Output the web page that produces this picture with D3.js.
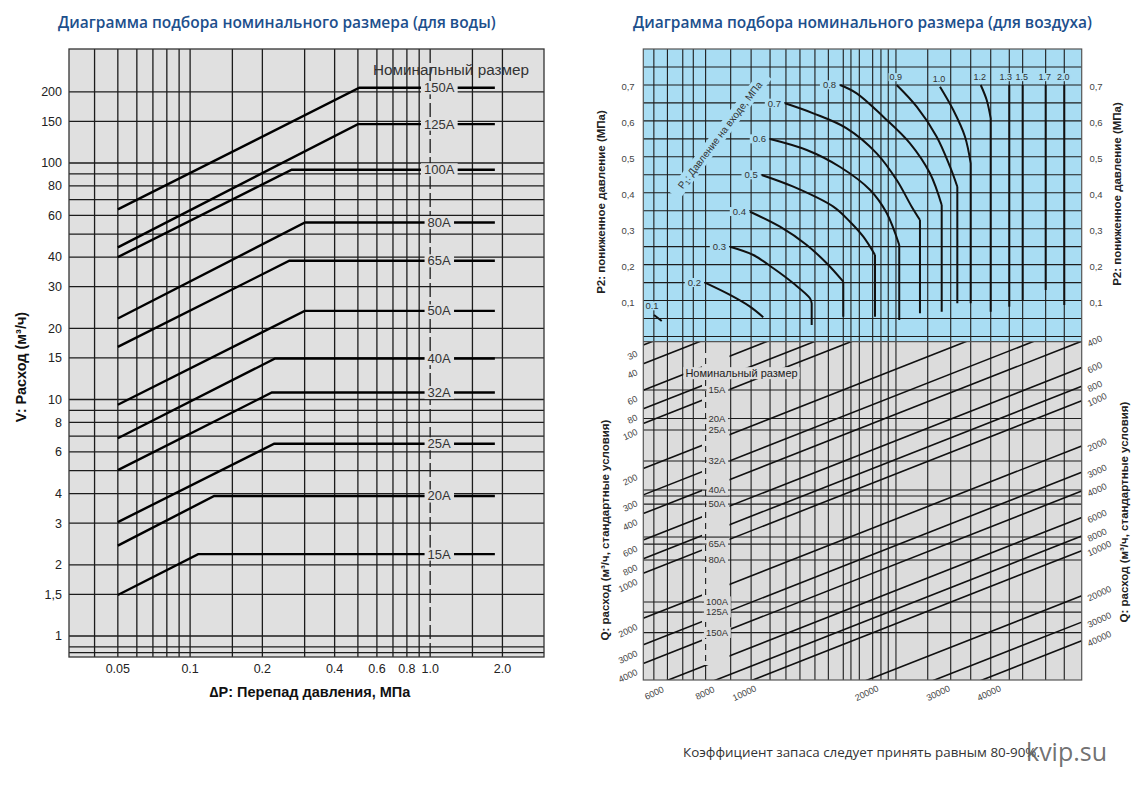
<!DOCTYPE html>
<html><head><meta charset="utf-8">
<script src="https://cdn.jsdelivr.net/npm/d3@7"></script>
<style>
body{margin:0;background:#fff;}
svg text{font-family:"Liberation Sans",Arial,sans-serif;}
</style></head>
<body><svg id="c" width="1148" height="802"></svg>
<script>
// ================= DATA =================
// --- Water chart (left) ---
const waterSizes   = ["15A","20A","25A","32A","40A","50A","65A","80A","100A","125A","150A"];
const waterStartDP = [0.05,0.05,0.05,0.05,0.05,0.05,0.05,0.05,0.05,0.05,0.05];
const waterStartV  = [1.49,2.41,3.03,5.03,6.86,9.5,16.7,22,40,44,63.7];
const waterKneeDP  = [0.108,0.126,0.224,0.219,0.226,0.30,0.259,0.301,0.265,0.50,0.507];
const waterMaxV    = [2.22,3.91,6.5,10.7,14.9,23.7,38.6,56,93.7,146,208];
const waterEndDP   = [1.86,1.86,1.86,1.86,1.86,1.86,1.86,1.86,1.86,1.86,1.86];
const waterLabelDP = 1.09;
const waterXGrid   = [0.04,0.05,0.06,0.07,0.08,0.09,0.1,0.15,0.2,0.3,0.4,0.5,0.6,0.7,0.8,0.9,1.5,2.0];
const waterXDashed = [1.0];
const waterXTicks  = [0.05,0.1,0.2,0.4,0.6,0.8,1.0,2.0];
const waterXTickText = ["0.05","0.1","0.2","0.4","0.6","0.8","1.0","2.0"];
const waterYGrid   = [0.85,0.9,1,1.5,2,3,4,5,6,7,8,9,10,15,20,30,40,50,60,70,80,90,100,150,200];
const waterYTicks  = [1,1.5,2,3,4,6,8,10,15,20,30,40,60,80,100,150,200];
const waterYTickText = ["1","1,5","2","3","4","6","8","10","15","20","30","40","60","80","100","150","200"];

// --- Air chart (right) ---
const airP2Grid  = [0,0.05,0.1,0.15,0.2,0.25,0.3,0.35,0.4,0.45,0.5,0.55,0.6,0.65,0.7,0.75];
const airP2Ticks = [0.1,0.2,0.3,0.4,0.5,0.6,0.7];
const airP2TickText = ["0,1","0,2","0,3","0,4","0,5","0,6","0,7"];
const airXGrid = [5500,5970,6550,6980,8750,9900,11100,12220,13300,14560,15790,17280,18100,19040,20640,21700,22680,23760,28790,33080,37330,42130,47130,51100,58720,65710];
const airXGridDashed = [7520];
// P1 curves: points [Q-axis position, P2], then vertical drop to P2
const airP1Values = [0.1,0.2,0.3,0.4,0.5,0.6,0.7,0.8,0.9,1.0,1.2,1.3,1.5,1.7,2.0];
const airP1Text   = ["0.1","0.2","0.3","0.4","0.5","0.6","0.7","0.8","0.9","1.0","1.2","1.3","1.5","1.7","2.0"];
const airP1Arcs = [
  [[5505,0.0598],[5768,0.0431]],
  [[7490,0.1497],[8715,0.1155],[9834,0.0829],[10655,0.0534]],
  [[8715,0.2499],[10032,0.2268],[11323,0.1898],[12777,0.148],[14128,0.1063],[14277,0.0924]],
  [[9834,0.3472],[11790,0.3055],[13856,0.2546],[15635,0.2037],[17281,0.1525]],
  [[10557,0.4494],[12777,0.4168],[16270,0.3612],[17993,0.3194],[19505,0.2777],[20934,0.2268]],
  [[11094,0.5495],[13856,0.5189],[16956,0.4716],[20326,0.4076],[22462,0.3436],[24236,0.2546]],
  [[12152,0.6489],[14417,0.621],[17641,0.5793],[21150,0.5097],[23868,0.4354],[26130,0.3612],[27470,0.3241]],
  [[16956,0.6998],[18740,0.6767],[22007,0.6116],[25862,0.5376],[29180,0.4541],[31326,0.3659]],
  [[23868,0.6998],[26930,0.6394],[30387,0.5559],[32936,0.4725],[34428,0.4168]],
  [[31001,0.695],[33597,0.6302],[36063,0.5559],[37322,0.4819]],
  [[39655,0.6998],[41115,0.658],[42121,0.6071]],
  [[47131,0.6998]],
  [[51100,0.6998]],
  [[58725,0.6998]],
  [[65714,0.6998]]
];
const airP1Drop = [null,null,0.032,0.0551,0.0551,0.0459,0.0646,0.069,0.0924,0.0924,0.069,0.0829,0.1016,0.1294,0.0876];
// iso-flow lines (m3/h)
const airQLines = [30,40,60,80,100,200,300,400,600,800,1000,2000,3000,4000,6000,8000,10000,20000,30000,40000];
const airQLeftTicks   = [30,40,60,80,100,200,300,400,600,800,1000,2000,3000,4000];
const airQRightTicks  = [400,600,800,1000,2000,3000,4000,6000,8000,10000,20000,30000,40000];
const airQBottomTicks = [6000,8000,10000,20000,30000,40000];
// nominal sizes placed on the left Q axis
const airSizes = ["15A","20A","25A","32A","40A","50A","65A","80A","100A","125A","150A"];
const airSizeQ = [59.9,92.8,110.8,178.4,278.6,345.6,639,817,1558,1817,2490];
const airExtraQGrid = [305.5,573.8];

// ================= DRAW =================
const svg = d3.select("#c");
const GRID = "#1c1c1c";

// Titles
svg.append("text").attr("x",58).attr("y",28).text("Диаграмма подбора номинального размера (для воды)")
  .style("font-family","'Open Sans'").attr("font-weight",600).attr("font-size",15.5).attr("fill","#1d4f8c");
svg.append("text").attr("x",633).attr("y",28).text("Диаграмма подбора номинального размера (для воздуха)")
  .style("font-family","'Open Sans'").attr("font-weight",600).attr("font-size",15.5).attr("fill","#1d4f8c");

// ---------- Left chart ----------
const WL=69, WR=544, WT=49, WB=657, WBG="#e0e0e0";
const wx = d3.scaleLog().domain([0.0313, 2.98]).range([WL, WR]);
const wy = d3.scaleLog().domain([0.815, 303.4]).range([WB, WT]);
const wg = svg.append("g");
wg.append("rect").attr("x",WL).attr("y",WT).attr("width",WR-WL).attr("height",WB-WT).attr("fill",WBG);
wg.selectAll(".wxg").data(waterXGrid).join("line")
  .attr("x1",d=>wx(d)).attr("x2",d=>wx(d)).attr("y1",WT).attr("y2",WB)
  .attr("stroke",GRID).attr("stroke-width",1.3);
wg.selectAll(".wxd").data(waterXDashed).join("line")
  .attr("x1",d=>wx(d)).attr("x2",d=>wx(d)).attr("y1",WT).attr("y2",WB)
  .attr("stroke",GRID).attr("stroke-width",1.3).attr("stroke-dasharray","14,4");
wg.selectAll(".wyg").data(waterYGrid).join("line")
  .attr("x1",WL).attr("x2",WR).attr("y1",d=>wy(d)).attr("y2",d=>wy(d))
  .attr("stroke",GRID).attr("stroke-width",1.3);
const wline = d3.line().x(d=>wx(d[0])).y(d=>wy(d[1]));
waterSizes.forEach((s,i)=>{
  const pts=[[waterStartDP[i],waterStartV[i]],[waterKneeDP[i],waterMaxV[i]],[waterEndDP[i],waterMaxV[i]]];
  wg.append("path").attr("d",wline(pts)).attr("fill","none").attr("stroke","#000").attr("stroke-width",2.4);
});
waterSizes.forEach((s,i)=>{
  const t = wg.append("text").attr("x",wx(waterLabelDP)).attr("y",wy(waterMaxV[i])).attr("dy","0.35em")
    .attr("text-anchor","middle").attr("font-size",13).attr("fill","#333").text(s);
  const bb=t.node().getBBox();
  wg.insert("rect",()=>t.node()).attr("x",bb.x-3).attr("y",bb.y+1).attr("width",bb.width+6).attr("height",bb.height-2).attr("fill",WBG);
});
wg.append("rect").attr("x",WL).attr("y",WT).attr("width",WR-WL).attr("height",WB-WT)
  .attr("fill","none").attr("stroke","#333").attr("stroke-width",1.3);
wg.append("text").attr("x",451).attr("y",70).attr("dy","0.35em").attr("text-anchor","middle")
   .attr("font-size",15.3).attr("fill","#333").text("Номинальный размер");
wg.selectAll(".wyt").data(waterYTicks).join("text")
  .attr("x",62).attr("y",d=>wy(d)).attr("dy","0.35em").attr("text-anchor","end")
  .attr("font-size",12.5).attr("fill","#222").text((d,i)=>waterYTickText[i]);
wg.selectAll(".wxt").data(waterXTicks).join("text")
  .attr("x",d=>wx(d)).attr("y",669).attr("dy","0.35em").attr("text-anchor","middle")
  .attr("font-size",12.5).attr("fill","#222").text((d,i)=>waterXTickText[i]);
wg.append("text").attr("transform","translate(21,367) rotate(-90)").attr("text-anchor","middle").attr("dy","0.35em")
  .attr("font-size",14.5).attr("font-weight","bold").attr("fill","#111").text("V: Расход (м³/ч)");
wg.append("text").attr("x",310).attr("y",692).attr("dy","0.35em").attr("text-anchor","middle")
  .attr("font-size",14.5).attr("font-weight","bold").attr("fill","#111").text("∆P: Перепад давления, МПа");

// ---------- Right chart ----------
const AL=643.3, AR=1081.7, AT=49, AM=341.7, AB=680;
const BLUE="#a9ddf3", GRAY="#dcdcdc";
const ax = d3.scaleLog().domain([5160, 73010]).range([AL, AR]);
const ap = d3.scaleLinear().domain([-0.0145, 0.8]).range([AM, AT]);
const aq = d3.scaleLog().domain([28.5, 5160]).range([AM, AB]);
const axLabel = d3.scaleLog().domain([8000, 40000]).range([705, 989]); // bottom axis label placement
function diagY(Q,x){ const y0=aq(Q), xb=ax(Q); const s=(y0-AB)/(xb-AL); return y0 - s*(x-AL); }
const ag = svg.append("g");
ag.append("rect").attr("x",AL).attr("y",AT).attr("width",AR-AL).attr("height",AM-AT).attr("fill",BLUE);
ag.append("rect").attr("x",AL).attr("y",AM).attr("width",AR-AL).attr("height",AB-AM).attr("fill",GRAY);
ag.selectAll(".axg").data(airXGrid).join("line")
  .attr("x1",d=>ax(d)).attr("x2",d=>ax(d)).attr("y1",AT).attr("y2",AB).attr("stroke",GRID).attr("stroke-width",1.1);
ag.selectAll(".axgd").data(airXGridDashed).join("line")
  .attr("x1",d=>ax(d)).attr("x2",d=>ax(d)).attr("y1",AT).attr("y2",AB).attr("stroke",GRID).attr("stroke-width",1.1);
ag.selectAll(".apg").data(airP2Grid).join("line")
  .attr("x1",AL).attr("x2",AR).attr("y1",d=>ap(d)).attr("y2",d=>ap(d)).attr("stroke",GRID).attr("stroke-width",1.1);
const lowerH = airSizeQ.concat(airExtraQGrid);
ag.selectAll(".aqg").data(lowerH).join("line")
  .attr("x1",AL).attr("x2",AR).attr("y1",d=>aq(d)).attr("y2",d=>aq(d)).attr("stroke",GRID).attr("stroke-width",1.1);
// clip for diagonals
svg.append("defs").append("clipPath").attr("id","lowclip").append("rect")
  .attr("x",AL).attr("y",AM).attr("width",AR-AL).attr("height",AB-AM);
ag.append("g").attr("clip-path","url(#lowclip)").selectAll("line").data(airQLines).join("line")
  .attr("x1",AL).attr("y1",d=>diagY(d,AL)).attr("x2",AR).attr("y2",d=>diagY(d,AR))
  .attr("stroke","#111").attr("stroke-width",1.6);
// label column
const colX0=702, colX1=729.5;
ag.append("rect").attr("x",colX0).attr("y",347).attr("width",colX1-colX0).attr("height",318).attr("fill",GRAY);
ag.selectAll(".aqg2").data(lowerH).join("line")
  .attr("x1",colX0).attr("x2",colX1).attr("y1",d=>aq(d)).attr("y2",d=>aq(d)).attr("stroke",GRID).attr("stroke-width",1.1);
ag.selectAll(".axgd2").data(airXGridDashed).join("line")
  .attr("x1",d=>ax(d)).attr("x2",d=>ax(d)).attr("y1",347).attr("y2",665).attr("stroke",GRID).attr("stroke-width",1.1)
  .attr("stroke-dasharray","6,5");
airSizes.forEach((s,i)=>{
  const t=ag.append("text").attr("x",717).attr("y",aq(airSizeQ[i])).attr("dy","0.35em").attr("text-anchor","middle")
    .attr("font-size",9.5).attr("fill","#333").text(s);
  const bb=t.node().getBBox();
  ag.insert("rect",()=>t.node()).attr("x",bb.x-2).attr("y",bb.y).attr("width",bb.width+4).attr("height",bb.height).attr("fill",GRAY);
});
{
  const t=ag.append("text").attr("x",741.5).attr("y",373.3).attr("dy","0.35em").attr("text-anchor","middle")
    .attr("font-size",11).attr("fill","#222").text("Номинальный размер");
  const bb=t.node().getBBox();
  ag.insert("rect",()=>t.node()).attr("x",bb.x-2).attr("y",bb.y).attr("width",bb.width+4).attr("height",bb.height).attr("fill",GRAY);
}
// P1 title (rotated)
{
  const gg=ag.append("g").attr("transform","translate(720,135) rotate(-52.6)");
  gg.append("rect").attr("x",-76).attr("y",-7).attr("width",152).attr("height",14).attr("fill",BLUE);
  const t=gg.append("text").attr("text-anchor","middle").attr("dy","0.35em").attr("font-size",10).attr("fill","#333");
  t.append("tspan").text("P");
  t.append("tspan").attr("font-size",7).attr("dy",2).text("1");
  t.append("tspan").attr("dy",-2).text(": Давление на входе, МПа");
}
// P1 curves
const cline = d3.line().x(d=>ax(d[0])).y(d=>ap(d[1])).curve(d3.curveCatmullRom.alpha(0.5));
airP1Arcs.forEach((arc,i)=>{
  let d = arc.length>1 ? cline(arc) : `M${ax(arc[0][0])},${ap(arc[0][1])}`;
  const last=arc[arc.length-1];
  if(airP1Drop[i]!==null) d += `M${ax(last[0])},${ap(last[1])}L${ax(last[0])},${ap(airP1Drop[i])}`;
  ag.append("path").attr("d",d).attr("fill","none").attr("stroke","#111").attr("stroke-width",2);
});
// P1 labels
airP1Arcs.forEach((arc,i)=>{
  const p=arc[0]; let x=ax(p[0]), y=ap(p[1]), anchor="end", pad=3, fs=9.5;
  if(airP1Values[i]>=0.9){
    y-=8; anchor="middle"; pad=1; fs=9;
    const next = airP1Arcs[i+1];
    x -= (next && ax(next[0][0])-x < 16) ? 3.5 : 1;
  }
  else if(airP1Values[i]<0.15){ x-=2; y-=9; anchor="middle"; pad=1; }
  else { x-=4; }
  const t=ag.append("text").attr("x",x).attr("y",y).attr("dy","0.35em").attr("text-anchor",anchor)
    .attr("font-size",fs).attr("fill","#333").text(airP1Text[i]);
  const bb=t.node().getBBox();
  ag.insert("rect",()=>t.node()).attr("x",bb.x-pad).attr("y",bb.y+1).attr("width",bb.width+2*pad).attr("height",bb.height-2).attr("fill",BLUE);
});
// borders
ag.append("rect").attr("x",AL).attr("y",AT).attr("width",AR-AL).attr("height",AB-AT)
  .attr("fill","none").attr("stroke","#555").attr("stroke-width",1.2);
ag.append("line").attr("x1",AL).attr("x2",AR).attr("y1",AM).attr("y2",AM).attr("stroke","#555").attr("stroke-width",1.2);
// P2 tick labels
ag.selectAll(".apl").data(airP2Ticks).join("text").attr("x",628).attr("y",d=>ap(d)+2).attr("dy","0.35em")
  .attr("text-anchor","middle").attr("font-size",9.5).attr("fill","#444").text((d,i)=>airP2TickText[i]);
ag.selectAll(".apr").data(airP2Ticks).join("text").attr("x",1096).attr("y",d=>ap(d)+2).attr("dy","0.35em")
  .attr("text-anchor","middle").attr("font-size",9.5).attr("fill","#444").text((d,i)=>airP2TickText[i]);
// Q tick labels
ag.selectAll(".aql").data(airQLeftTicks).join("text")
  .attr("transform",d=>`translate(637,${diagY(d,AL)+8}) rotate(-25)`).attr("dy","0.35em")
  .attr("text-anchor","end").attr("font-size",9).attr("fill","#444").text(d=>d);
ag.selectAll(".aqr").data(airQRightTicks).join("text")
  .attr("transform",d=>`translate(1088,${diagY(d,AR)+3}) rotate(-25)`).attr("dy","0.35em")
  .attr("text-anchor","start").attr("font-size",9).attr("fill","#444").text(d=>d);
ag.selectAll(".aqb").data(airQBottomTicks).join("text")
  .attr("transform",d=>`translate(${axLabel(d)},${693}) rotate(-25)`).attr("dy","0.35em")
  .attr("text-anchor","middle").attr("font-size",9).attr("fill","#444").text(d=>d);
// axis titles
const atitle=(x,y,txt)=>ag.append("text").attr("transform",`translate(${x},${y}) rotate(-90)`).attr("text-anchor","middle")
  .attr("dy","0.35em").attr("font-size",11.5).attr("font-weight","bold").attr("fill","#222").text(txt);
atitle(601,202,"P2: пониженное давление (МПа)");
atitle(1117,194,"P2: пониженное давление (МПа)");
atitle(605,530,"Q: расход (м³/ч, стандартные условия)");
atitle(1124,512,"Q: расход (м³/ч, стандартные условия)");

// footer
svg.append("text").attr("x",683).attr("y",757).style("font-family","'Open Sans'").attr("font-size",13.4)
  .attr("fill","#333").text("Коэффициент запаса следует принять равным 80-90%.");
svg.append("text").attr("x",1026).attr("y",761).style("font-family","'Open Sans'").attr("font-size",25)
  .attr("fill","#5f5f5f").attr("fill-opacity",0.9).text("kvip.su");
</script></body></html>
